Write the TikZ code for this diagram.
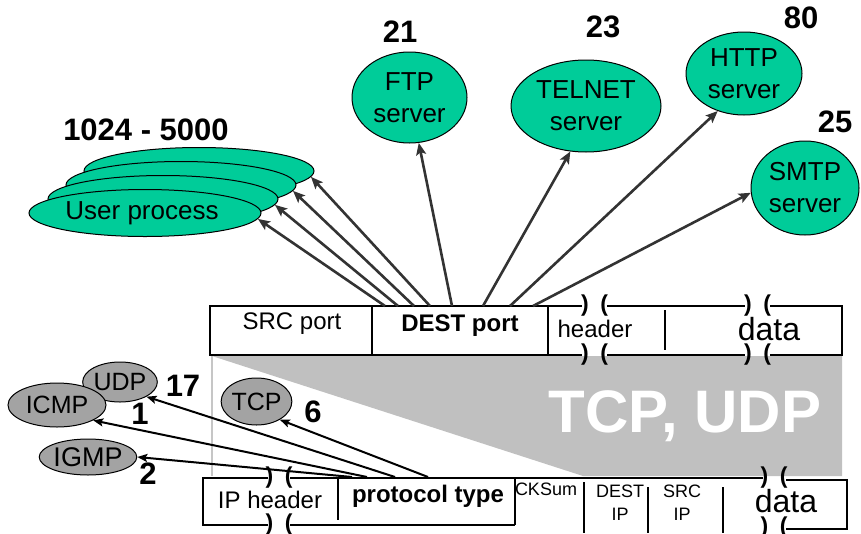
\documentclass[tikz,border=0pt]{standalone}
\usepackage{fontspec}
\setmainfont{Liberation Sans}
\usetikzlibrary{shapes.geometric,arrows.meta}

\definecolor{srvgreen}{RGB}{0,204,153}
\definecolor{protgray}{RGB}{163,163,163}
\definecolor{bandgray}{RGB}{192,192,192}

\newcommand{\lblfont}{\fontsize{24}{30}\selectfont}
\newcommand{\srvfont}{\fontsize{26}{32}\selectfont}
\newcommand{\numfont}{\fontsize{31}{31}\selectfont\bfseries}
\newcommand{\tinyfield}{\fontsize{18}{23}\selectfont}
\newcommand{\cutfont}{\fontsize{23}{23}\selectfont\bfseries}

\tikzset{
  server/.style={ellipse, draw, line width=1pt, fill=srvgreen, inner sep=0pt, align=center, font=\srvfont},
  proto/.style={ellipse, draw, line width=1pt, fill=protgray, inner sep=0pt, font=\fontsize{25}{25}\selectfont},
  portnum/.style={inner sep=0pt, font=\numfont},
  field/.style={inner sep=0pt, anchor=base, font=\lblfont},
  cut/.style={inner sep=0pt, font=\cutfont},
  frame/.style={line width=1.3pt},
  toapp/.style={-{Stealth[length=12pt,width=10pt,inset=2.5pt]}, draw=black!80, line width=2.6pt},
  toproto/.style={-{Stealth[length=10pt,width=8pt,inset=2pt]}, line width=2pt}
}

\begin{document}
\begin{tikzpicture}[x=1pt, y=-1pt]
        \useasboundingbox (0,0) rectangle (861,533);

        \fill[bandgray] (212,356) -- (842,356) -- (842,476) -- (583,476) -- cycle;
        \draw[gray!45, line width=2pt] (212,356) -- (212,476);
        \node[text=white, font=\fontsize{60}{60}\selectfont\bfseries] (band) at (685,416) {TCP, UDP};

        \draw[frame] (582,306) -- (210,306) -- (210,355) -- (582,355);
        \draw[frame] (607,306) -- (745,306);
        \draw[frame] (607,355) -- (745,355);
        \draw[frame] (770,306) -- (842,306) -- (842,355) -- (770,355);
        \draw[frame] (372,306) -- (372,355);
        \draw[frame] (548,306) -- (548,355);
        \draw[frame] (665,310) -- (665,350);
        \node[cut] (tcut1) at (594.5,306) {)\hspace{0.5em}(};
        \node[cut] (tcut2) at (594.5,355) {)\hspace{0.5em}(};
        \node[cut] (tcut3) at (757.5,306) {)\hspace{0.5em}(};
        \node[cut] (tcut4) at (757.5,355) {)\hspace{0.5em}(};
        \node[field] (srcport) at (292,329) {SRC port};
        \node[field, font=\lblfont\bfseries] (destport) at (460,331) {DEST port};
        \node[field] (tcphdr) at (595,337) {header};
        \node[field, font=\fontsize{32}{32}\selectfont] (tcpdata) at (769,340) {data};

        \draw[frame] (268,478) -- (203,478) -- (203,525) -- (268,525);
        \draw[frame] (290,478) -- (763,478);
        \draw[frame] (290,525) -- (515,525);
        \draw[frame] (786,480) -- (847,480) -- (847,529) -- (786,529);
        \draw[frame] (338,478) -- (338,520);
        \draw[frame] (515,478) -- (515,525);
        \draw[frame] (584,482) -- (584,533);
        \draw[frame] (648,487) -- (648,533);
        \draw[frame] (723,487) -- (723,533);
        \node[cut] (icut1) at (279,478) {)\hspace{0.5em}(};
        \node[cut] (icut2) at (279,525) {)\hspace{0.5em}(};
        \node[cut] (icut3) at (774,478) {)\hspace{0.5em}(};
        \node[cut] (icut4) at (774,528) {)\hspace{0.5em}(};
        \node[field] (iphdr) at (270,508) {IP header};
        \node[field, font=\lblfont\bfseries] (ptype) at (428,502) {protocol type};
        \node[field, font=\tinyfield] (cksum) at (546,495) {CKSum};
        \node[inner sep=0pt, align=center, font=\tinyfield] (destip) at (620,503) {DEST\\IP};
        \node[inner sep=0pt, align=center, font=\tinyfield] (srcip) at (682,503) {SRC\\IP};
        \node[field, font=\fontsize{32}{32}\selectfont] (ipdata) at (786,512) {data};

        \node[server, minimum width=230pt, minimum height=47pt] (up4) at (199,171) {};
        \node[server, minimum width=230pt, minimum height=47pt] (up3) at (181,185) {};
        \node[server, minimum width=230pt, minimum height=47pt] (up2) at (163,199) {};
        \node[server, minimum width=232pt, minimum height=47pt] (up1) at (145,213) {\hspace{-6pt}User process};
        \node[server, minimum width=115pt, minimum height=91pt] (ftp) at (409.5,97.5) {FTP\\server};
        \node[server, minimum width=150pt, minimum height=92pt] (telnet) at (586,106) {TELNET\\server};
        \node[server, minimum width=116pt, minimum height=83pt] (http) at (744,73.5) {HTTP\\server};
        \node[server, minimum width=108pt, minimum height=94pt] (smtp) at (805,188) {SMTP\\server};

        \node[portnum] (nuser) at (146,130) {1024 - 5000};
        \node[portnum] (nftp) at (400,32) {21};
        \node[portnum] (ntelnet) at (603,27) {23};
        \node[portnum] (nhttp) at (801,18) {80};
        \node[portnum] (nsmtp) at (835,122) {25};

        \coordinate (d1) at (385,306);
        \coordinate (d2) at (398,306);
        \coordinate (d3) at (414,306);
        \coordinate (d4) at (430,306);
        \coordinate (d5) at (452,306);
        \coordinate (d6) at (483,306);
        \coordinate (d7) at (510,306);
        \coordinate (d8) at (533,306);
        \draw[toapp] (d1) -- (up1.-3);
        \draw[toapp] (d2) -- (up2.-3);
        \draw[toapp] (d3) -- (up3.-3);
        \draw[toapp] (d4) -- (up4.-3);
        \draw[toapp] (d5) -- (ftp);
        \draw[toapp] (d6) -- (telnet.-109);
        \draw[toapp] (d7) -- (http.-125);
        \draw[toapp] (d8) -- (smtp.185);

        \node[proto, minimum width=74pt, minimum height=40pt] (udp) at (120,382) {UDP};
        \node[proto, minimum width=98pt, minimum height=44pt] (icmp) at (57,405) {ICMP};
        \node[proto, minimum width=96pt, minimum height=36pt, font=\fontsize{27}{27}\selectfont] (igmp) at (88,457) {IGMP};
        \node[proto, minimum width=69pt, minimum height=47pt] (tcp) at (256.5,401.5) {TCP};

        \node[portnum] (nudp) at (183,386) {17};
        \node[portnum] (nicmp) at (140,414) {1};
        \node[portnum] (ntcp) at (313,412) {6};
        \node[portnum] (nigmp) at (148,474) {2};

        \coordinate (p1) at (352,477);
        \coordinate (p2) at (367,477);
        \coordinate (p3) at (395,477);
        \coordinate (p4) at (428,477);
        \draw[toproto] (p1) -- (igmp.east);
        \draw[toproto] (p2) -- (icmp.-23);
        \draw[toproto] (p3) -- (udp.-29);
        \draw[toproto] (p4) -- (tcp.-38);
    \end{tikzpicture}
\end{document}
